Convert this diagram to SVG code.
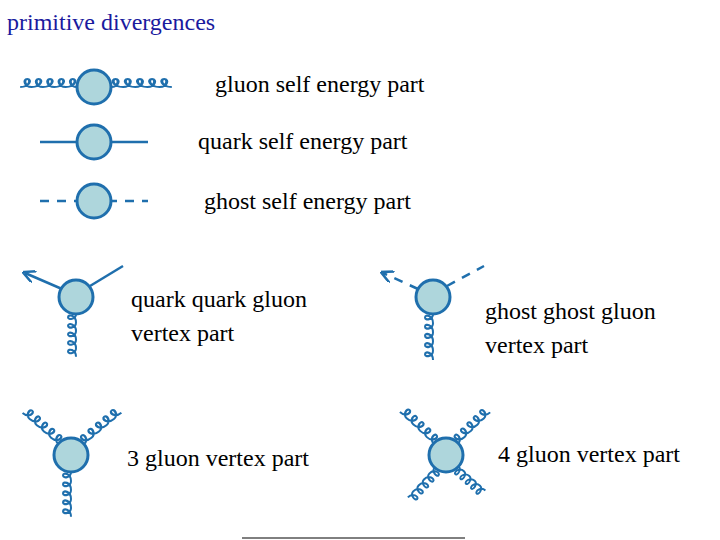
<svg xmlns="http://www.w3.org/2000/svg" width="720" height="540" viewBox="0 0 720 540">
<style>
.l{stroke:#1f6fad;stroke-width:2.5;fill:none}
.g{stroke:#1f6fad;stroke-width:2;fill:none;vector-effect:non-scaling-stroke}
.d{stroke-dasharray:9,8}
.b{fill:#aed6dc;stroke:#1f6fad;stroke-width:3}
.t{font-family:"Liberation Serif","Times New Roman",Times,"DejaVu Serif",serif;font-size:24px;fill:#000}
</style>
<defs>
<path id="gl" d="M0,0 c5,0 6,8 3,8 c-3,0 -2,-8 5,-8 c5,0 6,8 3,8 c-3,0 -2,-8 5,-8 c5,0 6,8 3,8 c-3,0 -2,-8 5,-8 c5,0 6,8 3,8 c-3,0 -2,-8 5,-8 c5,0 6,8 3,8 c-3,0 -2,-8 5,-8"/>
<marker id="ar" viewBox="0 0 10 10" refX="8" refY="5" markerWidth="5" markerHeight="5" orient="auto"><path d="M0,0 L10,5 L0,10" fill="none" stroke="#1f6fad" stroke-width="2"/></marker>
</defs>
<text class="t" x="7" y="30" style="fill:#1a1a9e">primitive divergences</text>
<g id="connectors">
<use href="#gl" class="g" transform="translate(77,87) rotate(180) scale(1.42,1)"/>
<use href="#gl" class="g" transform="translate(111,87) scale(1.52,-1)"/>
<line class="l" x1="62" y1="289" x2="25" y2="273" marker-end="url(#ar)"/>
<line class="l" x1="40" y1="142" x2="148" y2="142"/>
<line class="l d" x1="40" y1="201" x2="148" y2="201"/>
<line class="l" x1="90" y1="286" x2="123" y2="266"/>
<use href="#gl" class="g" transform="translate(76,297) rotate(90) translate(17,0) scale(1.07,1)"/>
<line class="l d" x1="418" y1="289" x2="383" y2="273" marker-end="url(#ar)"/>
<line class="l d" x1="447" y1="286" x2="484" y2="266"/>
<use href="#gl" class="g" transform="translate(433,297) rotate(90) translate(17,0) scale(1.15,1)"/>
<use href="#gl" class="g" transform="translate(71,455) rotate(-139) translate(17,0) scale(1.18,1)"/>
<use href="#gl" class="g" transform="translate(71,455) rotate(-40) translate(17,0) scale(1.22,-1)"/>
<use href="#gl" class="g" transform="translate(71,455) rotate(90) translate(17,0) scale(1.12,1)"/>
<use href="#gl" class="g" transform="translate(446,455) rotate(-137) translate(17,0) scale(1.15,1)"/>
<use href="#gl" class="g" transform="translate(446,455) rotate(-44) translate(17,0) scale(1.11,-1)"/>
<use href="#gl" class="g" transform="translate(446,455) rotate(132) translate(17,0) scale(1.0,-1)"/>
<use href="#gl" class="g" transform="translate(446,455) rotate(42) translate(17,0) scale(0.9,1)"/>
</g>
<g id="gse"><circle class="b" cx="94" cy="87" r="17"/><text class="t" x="215" y="92">gluon self energy part</text></g>
<g id="qse"><circle class="b" cx="94" cy="142" r="17"/><text class="t" x="198" y="149">quark self energy part</text></g>
<g id="ghse"><circle class="b" cx="94" cy="201" r="17"/><text class="t" x="204" y="209">ghost self energy part</text></g>
<g id="qqg"><circle class="b" cx="76" cy="297" r="17"/><text class="t" x="131" y="307">quark quark gluon</text><text class="t" x="131" y="341">vertex part</text></g>
<g id="ggg"><circle class="b" cx="433" cy="297" r="17"/><text class="t" x="485" y="319">ghost ghost gluon</text><text class="t" x="485" y="353">vertex part</text></g>
<g id="g3"><circle class="b" cx="71" cy="455" r="17"/><text class="t" x="127" y="466">3 gluon vertex part</text></g>
<g id="g4"><circle class="b" cx="446" cy="455" r="17"/><text class="t" x="498" y="462">4 gluon vertex part</text></g>
<line x1="242" y1="538" x2="465" y2="538" stroke="#000" stroke-width="1"/>
</svg>
